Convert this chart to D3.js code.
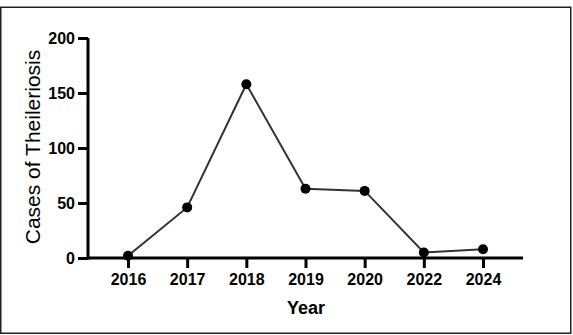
<!DOCTYPE html>
<html><head><meta charset="utf-8">
<script src="https://cdn.jsdelivr.net/npm/d3@7/dist/d3.min.js"></script>
<style>body{margin:0;background:#fff}svg{display:block}</style>
</head><body>
<svg id="c" width="573" height="335"></svg>
<script>
const years = ["2016","2017","2018","2019","2020","2022","2024"];
const cases = [2, 46, 158, 63, 61, 5, 8];
const yTicks = [0, 50, 100, 150, 200];

const svg = d3.select("#c");
const font = "'Liberation Sans', Arial, Helvetica, sans-serif";
svg.append("rect").attr("x",0.75).attr("y",7.25).attr("width",570).attr("height",326)
  .attr("fill","none").attr("stroke","#222").attr("stroke-width",1.5);

const x = d3.scalePoint().domain(years).range([88, 523]).padding(0.676);
const y = d3.scaleLinear().domain([0, 200]).range([258, 38]);

const gx = svg.append("g").attr("transform","translate(0,258)")
  .call(d3.axisBottom(x).tickSize(10).tickSizeOuter(0).tickPadding(6));
const gy = svg.append("g").attr("transform","translate(88,0)")
  .call(d3.axisLeft(y).tickValues(yTicks).tickSize(10).tickSizeOuter(0).tickPadding(3));
[gx, gy].forEach(g => {
  g.select(".domain").attr("stroke","#000").attr("stroke-width",3);
  g.selectAll(".tick line").attr("stroke","#000").attr("stroke-width",3);
  g.selectAll(".tick text").attr("fill","#000").style("font-family",font)
    .style("font-weight","bold").style("font-size","16px");
});
gx.select(".domain").attr("d","M88,0H523");
gy.select(".domain").attr("d","M0,38V259.5");

const pts = years.map((d,i)=>({year:d, v:cases[i]}));
svg.append("path").datum(pts)
  .attr("d", d3.line().x(d=>x(d.year)).y(d=>y(d.v)))
  .attr("fill","none").attr("stroke","#333").attr("stroke-width",2);
svg.selectAll("circle.p").data(pts).join("circle")
  .attr("cx",d=>x(d.year)).attr("cy",d=>y(d.v)).attr("r",5).attr("fill","#000");

svg.append("text").attr("x",306).attr("y",314).attr("text-anchor","middle")
  .style("font-family",font).style("font-weight","bold").style("font-size","18px").text("Year");
svg.append("text").attr("transform","translate(40,147) rotate(-90)").attr("text-anchor","middle")
  .style("font-family",font).style("font-size","21px").attr("fill","#000").text("Cases of Theileriosis");
</script>
</body></html>
